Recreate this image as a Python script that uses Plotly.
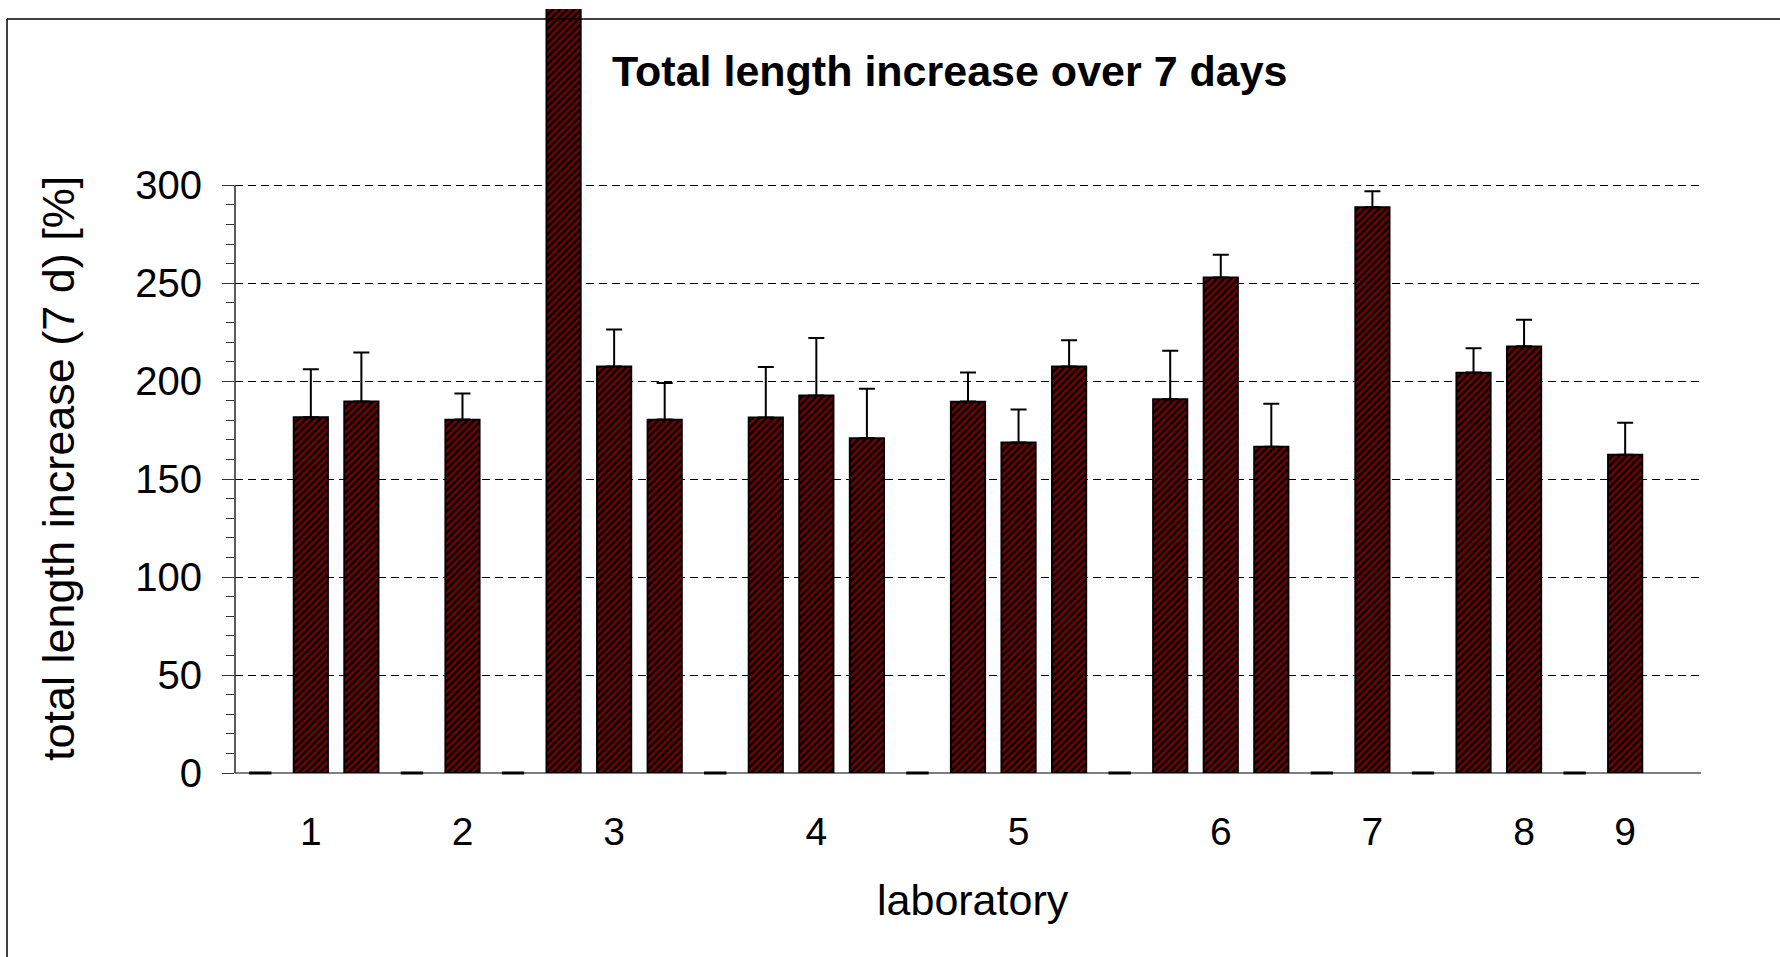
import plotly.graph_objects as go

# Bar slots along the x axis (0-valued slots are the gaps between laboratories)
slot_values = [0, 181.6, 189.7, 0, 180.4, 0, 395.0, 207.5, 180.4, 0, 181.5, 192.7, 170.9, 0,
               189.6, 168.7, 207.5, 0, 190.8, 253.0, 166.6, 0, 288.8, 0, 204.4, 217.8, 0, 162.5]
slot_errors = [0, 24.5, 25.0, 0, 13.3, 0, 0, 18.9, 18.7, 0, 25.8, 29.4, 25.2, 0,
               14.8, 16.8, 13.4, 0, 24.8, 11.6, 21.9, 0, 8.2, 0, 12.4, 13.6, 0, 16.3]
lab_tick_slots = [1, 4, 7, 11, 15, 19, 22, 25, 27]
lab_tick_labels = ["1", "2", "3", "4", "5", "6", "7", "8", "9"]
y_major = [0, 50, 100, 150, 200, 250, 300]
y_minor = [v for v in range(10, 300, 10) if v % 50 != 0]

W, H = 1780, 957
ML, MR, MT, MB = 235, 79, 9, 184
PW, PH = W - ML - MR, H - MT - MB
FONT = "Liberation Sans, Arial, sans-serif"


def px_x(px):
    return (px - ML) / PW


def px_y(py):
    return (H - MB - py) / PH


x_slots = list(range(len(slot_values)))
bar_x = [x for x, v in zip(x_slots, slot_values) if v != 0]
bar_y = [v for v in slot_values if v != 0]
bar_err = [e for e, v in zip(slot_errors, slot_values) if v != 0]
zero_x = [x for x, v in zip(x_slots, slot_values) if v == 0]
zero_y = [v for v in slot_values if v == 0]

fig = go.Figure()
fig.add_trace(go.Bar(
    x=bar_x,
    y=bar_y,
    width=0.68,
    marker=dict(
        color="#780000",
        line=dict(color="black", width=1.8),
        pattern=dict(shape="/", fgcolor="black", bgcolor="#780000",
                     size=5, solidity=0.5, fillmode="replace"),
    ),
    error_y=dict(type="data", array=bar_err, arrayminus=[0] * len(bar_err),
                 symmetric=False, color="black", thickness=2, width=8),
    cliponaxis=False,
    showlegend=False,
))
# empty slots: zero-height values shown as a flat error cap
fig.add_trace(go.Scatter(
    x=zero_x, y=zero_y, mode="markers",
    marker=dict(symbol="line-ew", size=16, line=dict(color="black", width=3)),
    cliponaxis=False, showlegend=False,
))

fig.update_layout(
    width=W, height=H,
    margin=dict(l=ML, r=MR, t=MT, b=MB, pad=0),
    paper_bgcolor="white", plot_bgcolor="white",
    font=dict(family=FONT, color="black"),
    xaxis=dict(
        range=[-0.5, 28.5],
        tickmode="array", tickvals=lab_tick_slots, ticktext=lab_tick_labels,
        ticks="", showgrid=False, showline=False, zeroline=False,
        tickfont=dict(size=39, family=FONT, color="black"),
        ticklabelstandoff=32,
    ),
    yaxis=dict(
        range=[0, 390],
        tickmode="array", tickvals=y_major,
        ticks="outside", ticklen=12, tickwidth=1.4, tickcolor="#333",
        tickfont=dict(size=40, family=FONT, color="black"),
        ticklabelstandoff=12,
        showgrid=True, gridcolor="black", gridwidth=1.2, griddash="8px,5px",
        zeroline=True, zerolinecolor="#7f7f7f", zerolinewidth=2,
        showline=False,
        minor=dict(tickmode="array", tickvals=y_minor, ticks="outside",
                   ticklen=8, tickwidth=1.4, tickcolor="#333", showgrid=False),
    ),
)

# value axis line, drawn over the labelled span only
fig.add_shape(type="line", xref="paper", yref="y", x0=0, x1=0, y0=0, y1=300,
              line=dict(color="#333", width=1.6), layer="above")

# outer chart frame (top and left edges)
fig.add_shape(type="line", xref="paper", yref="paper",
              x0=px_x(7), x1=px_x(W + 5), y0=px_y(19), y1=px_y(19),
              line=dict(color="black", width=1.5), layer="above")
fig.add_shape(type="line", xref="paper", yref="paper",
              x0=px_x(7), x1=px_x(7), y0=px_y(19), y1=px_y(H + 5),
              line=dict(color="black", width=1.5), layer="above")

fig.add_annotation(text="<b>Total length increase over 7 days</b>",
                   xref="paper", yref="paper", x=px_x(950), y=px_y(71),
                   xanchor="center", yanchor="middle", showarrow=False,
                   font=dict(size=43, family=FONT, color="black"))
fig.add_annotation(text="laboratory",
                   xref="paper", yref="paper", x=px_x(973), y=px_y(900),
                   xanchor="center", yanchor="middle", showarrow=False,
                   font=dict(size=43, family=FONT, color="black"))
fig.add_annotation(text="total length increase (7 d) [%]",
                   xref="paper", yref="paper", x=px_x(58), y=px_y(469),
                   xanchor="center", yanchor="middle", textangle=-90, showarrow=False,
                   font=dict(size=45, family=FONT, color="black"))

fig.write_html("out.html")
